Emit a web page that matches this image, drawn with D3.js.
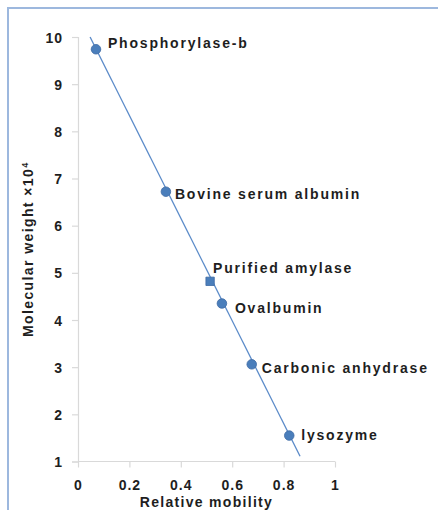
<!DOCTYPE html>
<html>
<head>
<meta charset="utf-8">
<script src="https://cdn.jsdelivr.net/npm/d3@7"></script>
<style>
  html, body { margin: 0; padding: 0; background: #fff; }
  svg { display: block; }
  text { font-family: "Liberation Sans", Arial, sans-serif; font-weight: bold; fill: #1e1e1e; }
</style>
</head>
<body>
<svg id="chart" width="438" height="510"></svg>
<script>
// ---- data ----
const proteins = ["Phosphorylase-b", "Bovine serum albumin", "Purified amylase", "Ovalbumin", "Carbonic anhydrase", "lysozyme"];
const mobility = [0.07, 0.342, 0.514, 0.56, 0.676, 0.822];
const molWeight = [9.74, 6.72, 4.82, 4.35, 3.06, 1.55];
const markerShape = ["circle", "circle", "square", "circle", "circle", "circle"];
const trendX = [0.047, 0.864];
const trendY = [10.0, 1.11];
const xTicks = [0, 0.2, 0.4, 0.6, 0.8, 1];
const yTicks = [1, 2, 3, 4, 5, 6, 7, 8, 9, 10];

// ---- layout ----
const svg = d3.select("#chart");
const x = d3.scaleLinear().domain([0, 1]).range([78, 335]);
const y = d3.scaleLinear().domain([1, 10]).range([461.5, 37]);

// label placement (pixel offsets from marker)
const labelOffset = {
  "Phosphorylase-b": [12, -1],
  "Bovine serum albumin": [9, 7],
  "Purified amylase": [3, -8],
  "Ovalbumin": [13, 9.5],
  "Carbonic anhydrase": [10, 9],
  "lysozyme": [12, 4]
};

// frame
svg.append("path")
  .attr("d", "M8,512 L8,8 L440,8")
  .attr("fill", "none")
  .attr("stroke", "#9db8de")
  .attr("stroke-width", 2);

// axes
const axisColor = "#d9d9d9";
const yAxis = svg.append("g")
  .attr("transform", `translate(${x(0)},0)`)
  .call(d3.axisLeft(y).tickValues(yTicks).tickFormat(d3.format("d")).tickSize(6).tickPadding(9));
const xAxis = svg.append("g")
  .attr("transform", `translate(0,${y(1)})`)
  .call(d3.axisBottom(x).tickValues(xTicks).tickFormat(d => d === 0 ? "0" : d === 1 ? "1" : d3.format(".1f")(d)).tickSize(6).tickPadding(13));

[yAxis, xAxis].forEach(g => {
  g.select(".domain").attr("stroke", axisColor).attr("stroke-width", 1.2);
  g.selectAll(".tick line").attr("stroke", axisColor).attr("stroke-width", 1.2);
  g.selectAll(".tick text")
    .attr("font-family", "Liberation Sans, Arial, sans-serif")
    .attr("font-weight", "bold")
    .attr("font-size", 14)
    .attr("letter-spacing", 1)
    .attr("fill", "#1e1e1e");
});
yAxis.selectAll(".tick text").attr("dy", "0.36em");
xAxis.select(".domain").attr("d", `M${x(0)},0H${x(1)}`);

// axis titles
svg.append("text")
  .attr("x", (x(0) + x(1)) / 2)
  .attr("y", 506.5)
  .attr("text-anchor", "middle")
  .attr("font-size", 14)
  .attr("letter-spacing", 1.3)
  .text("Relative mobility");

const yTitle = svg.append("text")
  .attr("transform", `translate(32.5,${(y(1) + y(10)) / 2}) rotate(-90)`)
  .attr("text-anchor", "middle")
  .attr("font-size", 14)
  .attr("letter-spacing", 1.4);
yTitle.append("tspan").text("Molecular weight ×10");
yTitle.append("tspan").attr("dy", -5).attr("font-size", 9).text("4");

// trend line
const line = d3.line().x(d => x(d[0])).y(d => y(d[1]));
svg.append("path")
  .datum(d3.zip(trendX, trendY))
  .attr("d", line)
  .attr("fill", "none")
  .attr("stroke", "#5b8bc9")
  .attr("stroke-width", 1.3);

// markers
const pts = proteins.map((p, i) => ({ name: p, x: mobility[i], y: molWeight[i], shape: markerShape[i] }));
const sym = { circle: d3.symbolCircle, square: d3.symbolSquare };
const symSize = { circle: 72, square: 70 };
svg.append("g").selectAll("path")
  .data(pts)
  .join("path")
  .attr("transform", d => `translate(${x(d.x)},${y(d.y)})`)
  .attr("d", d => d3.symbol().type(sym[d.shape]).size(symSize[d.shape])())
  .attr("fill", "#4a7ebb")
  .attr("stroke", "#3d6aa3")
  .attr("stroke-width", 0.8);

// data labels
svg.append("g").selectAll("text")
  .data(pts)
  .join("text")
  .attr("x", d => x(d.x) + labelOffset[d.name][0])
  .attr("y", d => y(d.y) + labelOffset[d.name][1])
  .attr("font-size", 14)
  .attr("letter-spacing", 1.8)
  .text(d => d.name);
</script>
</body>
</html>
